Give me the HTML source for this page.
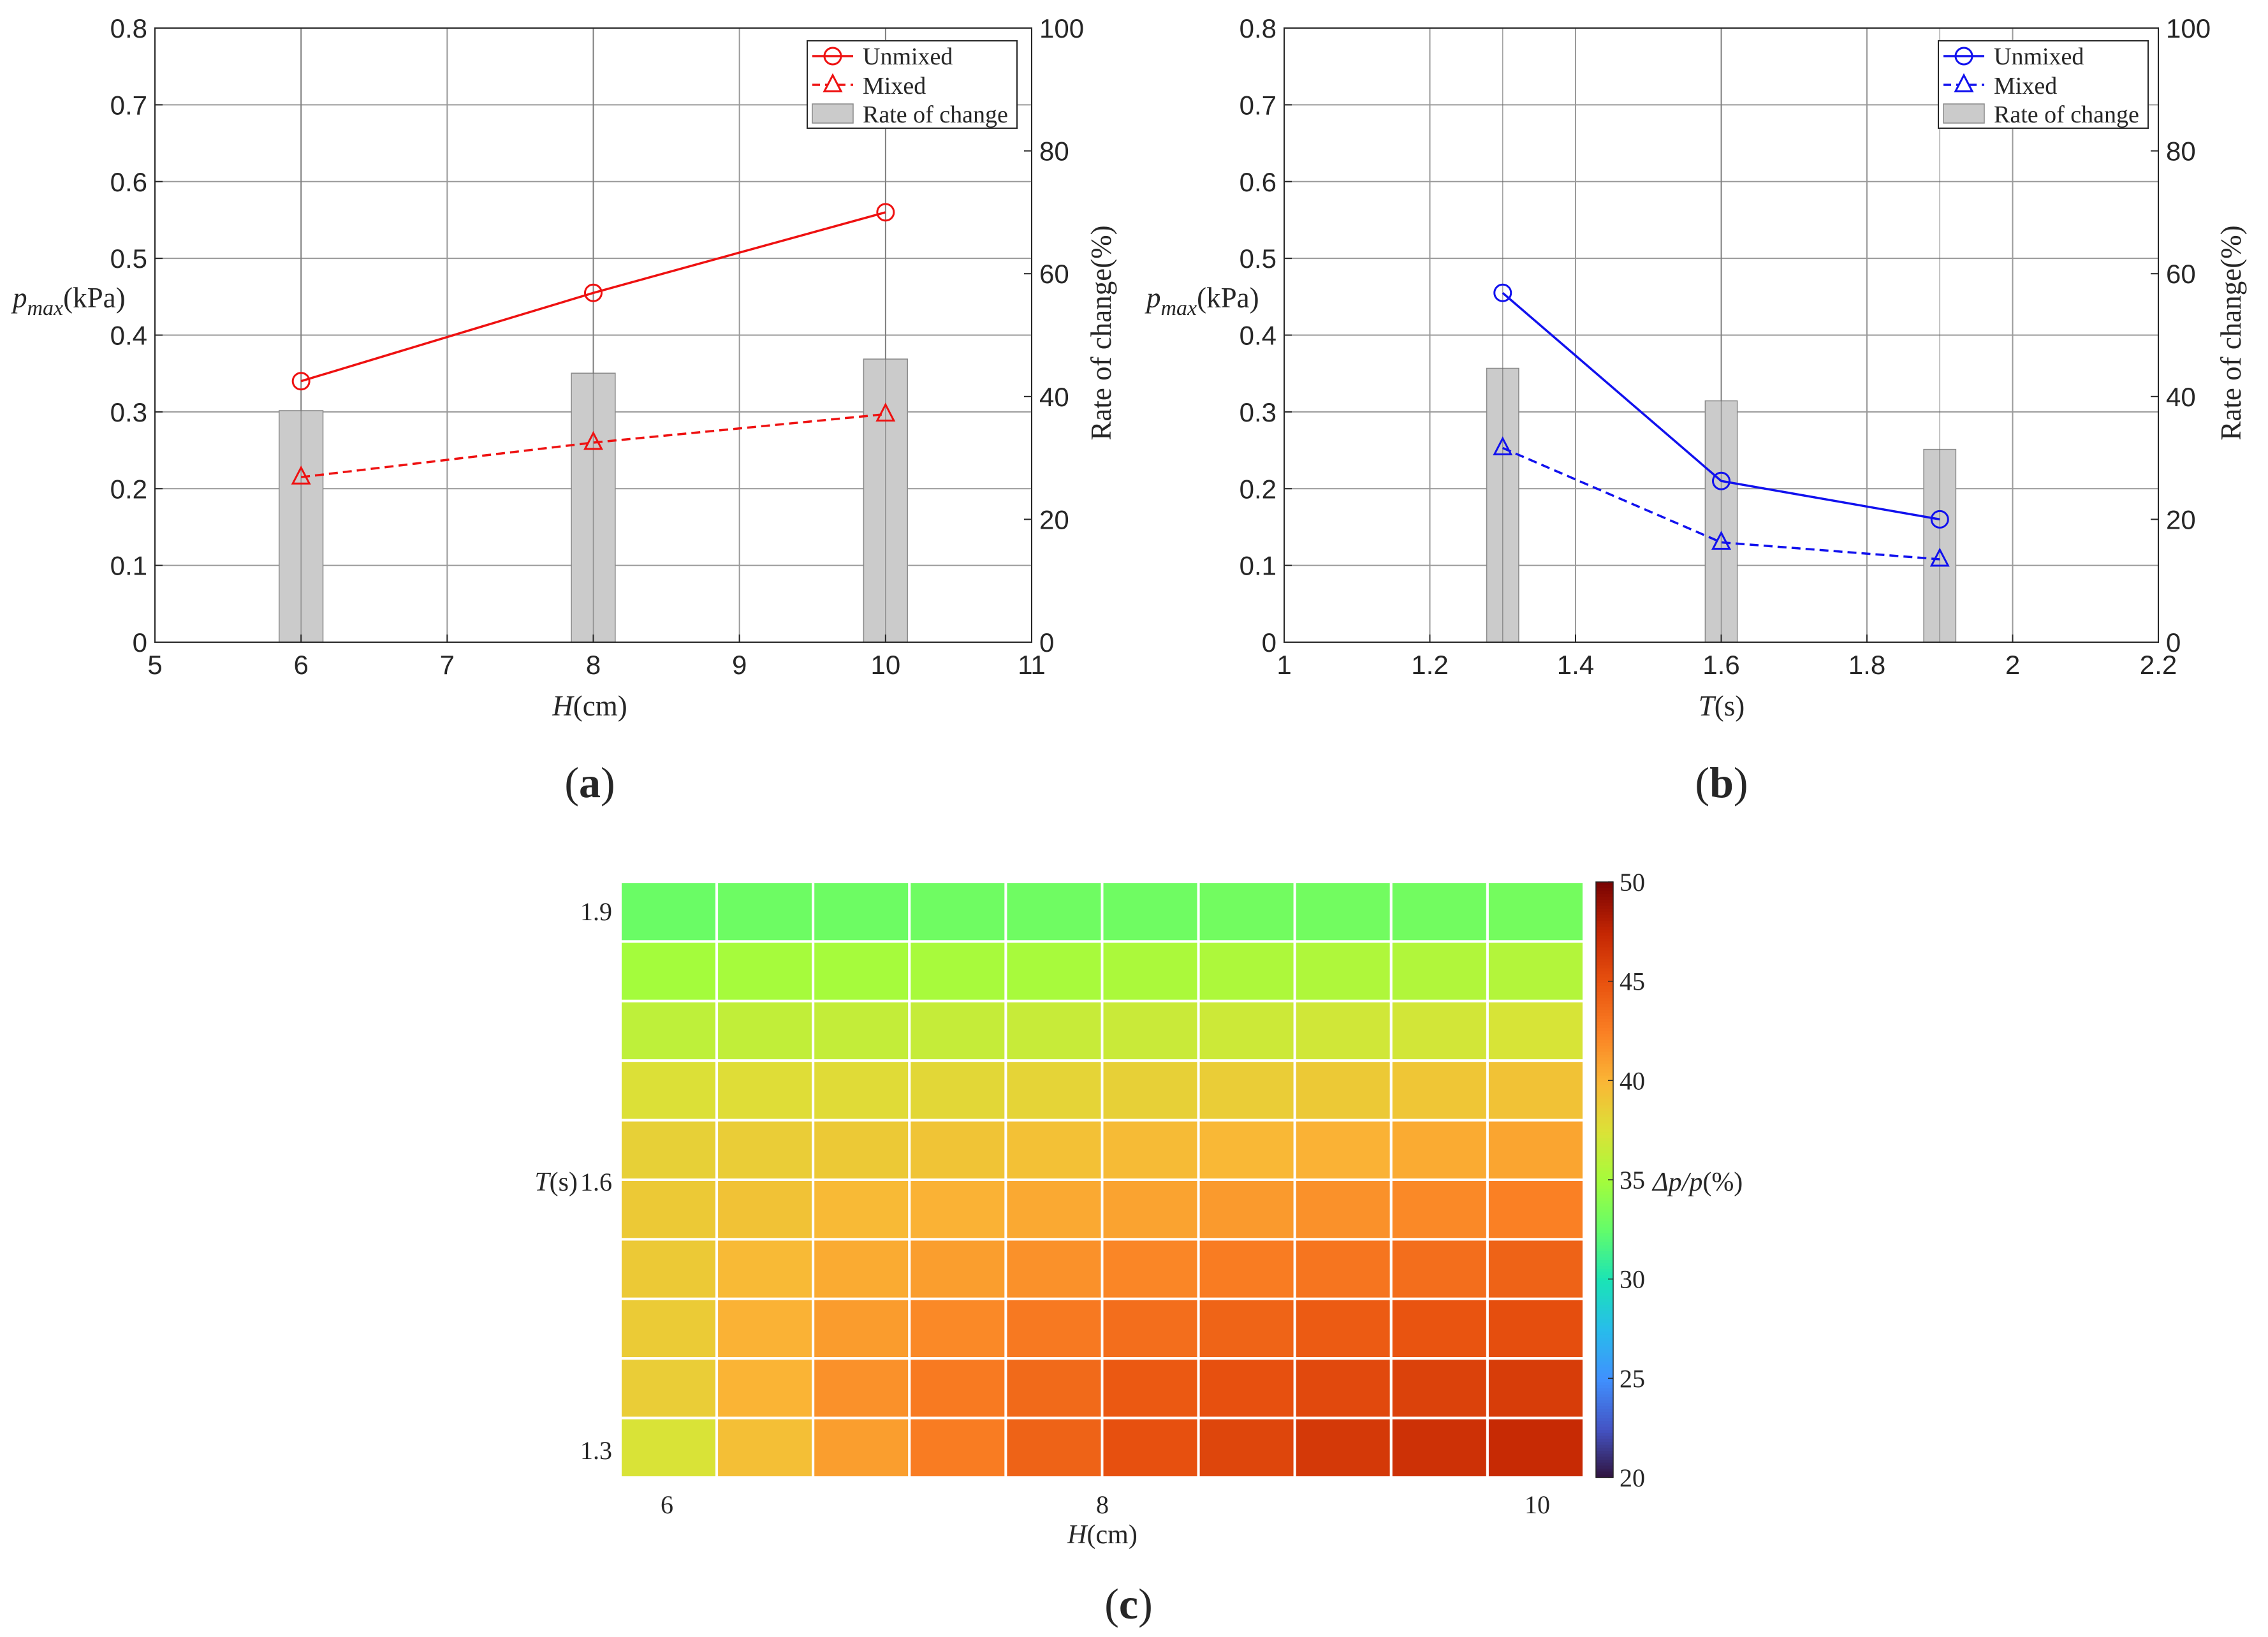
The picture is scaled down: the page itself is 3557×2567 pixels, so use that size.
<!DOCTYPE html>
<html><head><meta charset="utf-8"><style>
html,body{margin:0;padding:0;background:#fff}
svg{display:block}
.tk{font-family:"Liberation Sans Narrow","Liberation Sans",sans-serif;font-size:42px;fill:#262626}
.sf{font-family:"Liberation Serif",serif;fill:#262626}
</style></head><body>
<svg id="root" width="3557" height="2567" xmlns="http://www.w3.org/2000/svg"></svg>
<script>
// ---- data panel (a)
const hCats = [6, 8, 10];
const aUnmixed = [0.34, 0.455, 0.56];
const aMixed = [0.215, 0.26, 0.297];
const aRate = [37.7, 43.8, 46.1];
// ---- data panel (b)
const tCats = [1.3, 1.6, 1.9];
const bUnmixed = [0.455, 0.21, 0.16];
const bMixed = [0.253, 0.13, 0.108];
const bRate = [44.6, 39.3, 31.4];
// ---- tick labels
const leftTicks = [0, 0.1, 0.2, 0.3, 0.4, 0.5, 0.6, 0.7, 0.8];
const rightTicks = [0, 20, 40, 60, 80, 100];
const aXTicks = [5, 6, 7, 8, 9, 10, 11];
const bXTicks = [1, 1.2, 1.4, 1.6, 1.8, 2, 2.2];
// ---- heatmap (rows top = T 1.9 to bottom = T 1.3)
const heatRow1 = [32.8, 32.9, 32.9, 33.0, 33.0, 33.0, 33.1, 33.1, 33.1, 33.2];
const heatRow2 = [35.0, 35.1, 35.1, 35.2, 35.2, 35.3, 35.4, 35.5, 35.6, 35.7];
const heatRow3 = [36.2, 36.3, 36.4, 36.5, 36.6, 36.7, 36.8, 37.0, 37.1, 37.3];
const heatRow4 = [37.6, 37.8, 37.9, 38.1, 38.3, 38.5, 38.7, 38.9, 39.1, 39.3];
const heatRow5 = [38.5, 38.7, 38.9, 39.2, 39.4, 39.7, 39.9, 40.2, 40.5, 40.8];
const heatRow6 = [38.9, 39.3, 39.8, 40.2, 40.6, 40.9, 41.3, 41.7, 42.1, 42.5];
const heatRow7 = [38.9, 39.8, 40.5, 41.1, 41.7, 42.2, 42.7, 43.1, 43.5, 44.1];
const heatRow8 = [38.8, 40.2, 41.2, 42.1, 42.9, 43.5, 44.0, 44.5, 44.9, 45.2];
const heatRow9 = [38.7, 40.1, 41.7, 42.8, 43.7, 44.6, 45.1, 45.5, 45.9, 46.2];
const heatRow10 = [37.4, 39.5, 41.1, 42.7, 44.1, 45.1, 45.7, 46.4, 46.9, 47.3];
const heatRows = [heatRow1, heatRow2, heatRow3, heatRow4, heatRow5, heatRow6, heatRow7, heatRow8, heatRow9, heatRow10];
const cbTicks = [20, 25, 30, 35, 40, 45, 50];

const NS = "http://www.w3.org/2000/svg";
const root = document.getElementById('root');
function mk(tag, attrs, parent, txt) {
  const e = document.createElementNS(NS, tag);
  for (const k in attrs) e.setAttribute(k, attrs[k]);
  if (txt !== undefined) e.textContent = txt;
  (parent || root).appendChild(e);
  return e;
}

function panel(id, X0, X1, xmin, xmax, xTicks, cats, unm, mix, rate, barW, color, xLabelMain, xLabelUnit, labelX, labelYX, rightLabelX, legX) {
  const Y0 = 1007, Y1 = 44;
  const g = mk('g', {});
  
  
  const sx = v => X0 + (v - xmin) / (xmax - xmin) * (X1 - X0);
  const sy = v => Y0 - v / 0.8 * (Y0 - Y1);
  const sr = v => Y0 - v / 100 * (Y0 - Y1);
  xTicks.forEach(t => { const l = mk('line', {x1: sx(t), x2: sx(t), y1: Y1, y2: Y0, stroke: '#9a9a9a', 'stroke-width': 2}, g);
      });
  leftTicks.forEach(t => { const l = mk('line', {x1: X0, x2: X1, y1: sy(t), y2: sy(t), stroke: '#9a9a9a', 'stroke-width': 2}, g);
      });
  cats.forEach((c, i) => {
    const b = mk('rect', {x: sx(c - barW / 2), y: sr(rate[i]), width: sx(c + barW / 2) - sx(c - barW / 2), height: Y0 - sr(rate[i]), fill: '#cbcbcb', stroke: '#8a8a8a', 'stroke-width': 1.5}, g);
    
    
  });
  cats.forEach(c => { mk('line', {x1: sx(c), x2: sx(c), y1: Y1, y2: Y0, stroke: '#666', 'stroke-width': 1.5, 'stroke-opacity': 0.6}, g); });
  const box = mk('rect', {x: X0, y: Y1, width: X1 - X0, height: Y0 - Y1, fill: 'none', stroke: '#262626', 'stroke-width': 2}, g);
   
  leftTicks.forEach(t => {
    mk('line', {x1: X0, x2: X0 + 12, y1: sy(t), y2: sy(t), stroke: '#262626', 'stroke-width': 2}, g);
    const tx = mk('text', {x: X0 - 12, y: sy(t) + 15, 'text-anchor': 'end', class: 'tk'}, g, String(t));
     
  });
  rightTicks.forEach(t => {
    mk('line', {x1: X1, x2: X1 - 12, y1: sr(t), y2: sr(t), stroke: '#262626', 'stroke-width': 2}, g);
    const tx = mk('text', {x: X1 + 12, y: sr(t) + 15, 'text-anchor': 'start', class: 'tk'}, g, String(t));
     
  });
  xTicks.forEach(t => {
    mk('line', {x1: sx(t), x2: sx(t), y1: Y0, y2: Y0 - 12, stroke: '#262626', 'stroke-width': 2}, g);
    const tx = mk('text', {x: sx(t), y: Y0 + 50, 'text-anchor': 'middle', class: 'tk'}, g, String(t));
     
  });
  const pU = cats.map((c, i) => sx(c) + ',' + sy(unm[i])).join(' ');
  const lu = mk('polyline', {points: pU, fill: 'none', stroke: color, 'stroke-width': 3.5}, g);
   
  const pM = cats.map((c, i) => sx(c) + ',' + sy(mix[i])).join(' ');
  const lm = mk('polyline', {points: pM, fill: 'none', stroke: color, 'stroke-width': 3.5, 'stroke-dasharray': '14 8'}, g);
   
  cats.forEach((c, i) => {
    const m = mk('circle', {cx: sx(c), cy: sy(unm[i]), r: 13, fill: 'none', stroke: color, 'stroke-width': 3}, g);
     
    const x = sx(c), y = sy(mix[i]);
    const t = mk('polygon', {points: `${x},${y - 15} ${x - 13},${y + 10} ${x + 13},${y + 10}`, fill: 'none', stroke: color, 'stroke-width': 3}, g);
     
  });
  const lg = mk('g', {}, g);
   
  mk('rect', {x: legX, y: 64, width: 329, height: 137, fill: '#fff', stroke: '#262626', 'stroke-width': 2}, lg);
  mk('line', {x1: legX + 8, x2: legX + 72, y1: 88, y2: 88, stroke: color, 'stroke-width': 3.5}, lg);
  mk('circle', {cx: legX + 40, cy: 88, r: 13, fill: 'none', stroke: color, 'stroke-width': 3}, lg);
  mk('text', {x: legX + 87, y: 101, class: 'sf', 'font-size': 38}, lg, 'Unmixed');
  mk('line', {x1: legX + 8, x2: legX + 72, y1: 133, y2: 133, stroke: color, 'stroke-width': 3.5, 'stroke-dasharray': '12 8'}, lg);
  mk('polygon', {points: `${legX + 40},${118} ${legX + 27},${143} ${legX + 53},${143}`, fill: '#fff', stroke: color, 'stroke-width': 3}, lg);
  mk('text', {x: legX + 87, y: 147, class: 'sf', 'font-size': 38}, lg, 'Mixed');
  mk('rect', {x: legX + 8, y: 163, width: 64, height: 30, fill: '#cbcbcb', stroke: '#8a8a8a', 'stroke-width': 1.5}, lg);
  mk('text', {x: legX + 87, y: 192, class: 'sf', 'font-size': 38}, lg, 'Rate of change');
  const yl = mk('text', {x: labelYX, y: 482, class: 'sf', 'font-size': 45}, g);
   
  mk('tspan', {'font-style': 'italic'}, yl, 'p');
  mk('tspan', {'font-style': 'italic', 'font-size': 34, dy: 12}, yl, 'max');
  mk('tspan', {dy: -12}, yl, '(kPa)');
  const rl = mk('text', {x: rightLabelX, y: 522, class: 'sf', 'font-size': 45, 'text-anchor': 'middle', transform: `rotate(-90 ${rightLabelX} 522)`}, g, 'Rate of change(%)');
   
  const xl = mk('text', {x: labelX, y: 1122, class: 'sf', 'font-size': 45, 'text-anchor': 'middle'}, g);
   
  mk('tspan', {'font-style': 'italic'}, xl, xLabelMain);
  mk('tspan', {}, xl, xLabelUnit);
  const pl = mk('text', {x: labelX, y: 1250, class: 'sf', 'font-size': 68, 'text-anchor': 'middle'}, g);
   
  mk('tspan', {}, pl, '(');
  mk('tspan', {'font-weight': 'bold'}, pl, id);
  mk('tspan', {}, pl, ')');
}
panel('a', 243, 1618, 5, 11, aXTicks, hCats, aUnmixed, aMixed, aRate, 0.3, '#ee1111', 'H', '(cm)', 925, 20, 1742, 1266);
panel('b', 2014, 3385, 1, 2.2, bXTicks, tCats, bUnmixed, bMixed, bRate, 0.044, '#1111ee', 'T', '(s)', 2700, 1798, 3514, 3040);

const stops = [[20,[48,18,59]],[22.5,[68,84,196]],[25,[64,144,254]],[27.5,[40,188,235]],[30,[26,228,182]],[32.5,[98,252,107]],[35,[164,252,60]],[37.5,[219,226,55]],[40,[250,182,54]],[42.5,[250,128,36]],[45,[232,82,15]],[47.5,[196,38,3]],[50,[122,4,3]]];
function cmap(v) {
  v = Math.max(20, Math.min(50, v));
  for (let i = 0; i < stops.length - 1; i++) {
    const [a, ca] = stops[i], [b, cb] = stops[i + 1];
    if (v <= b) { const t = (v - a) / (b - a); return 'rgb(' + ca.map((c, k) => Math.round(c + (cb[k] - c) * t)).join(',') + ')'; }
  }
  return 'rgb(122,4,3)';
}
const HX0 = 973, HX1 = 2484, HY0 = 1383, HY1 = 2317;
const hg = mk('g', {});
 
const nR = heatRows.length, nC = heatRows[0].length;
const cw = (HX1 - HX0) / nC, ch = (HY1 - HY0) / nR;
heatRows.forEach((row, r) => row.forEach((v, c) => {
  const cell = mk('rect', {x: HX0 + c * cw, y: HY0 + r * ch, width: cw, height: ch, fill: cmap(v), stroke: '#fff', 'stroke-width': 4}, hg);
  
  
}));
[['1.9', 1443], ['1.6', 1867], ['1.3', 2288]].forEach(([t, y]) => {
  const e = mk('text', {x: 960, y: y, 'text-anchor': 'end', class: 'sf', 'font-size': 40}, hg, t);
   
});
const ty = mk('text', {x: 906, y: 1867, 'text-anchor': 'end', class: 'sf', 'font-size': 42}, hg);
 
mk('tspan', {'font-style': 'italic'}, ty, 'T'); mk('tspan', {}, ty, '(s)');
[['6', 1046], ['8', 1729], ['10', 2411]].forEach(([t, x]) => {
  const e = mk('text', {x: x, y: 2373, 'text-anchor': 'middle', class: 'sf', 'font-size': 40}, hg, t);
   
});
const tx = mk('text', {x: 1729, y: 2420, 'text-anchor': 'middle', class: 'sf', 'font-size': 42}, hg);
 
mk('tspan', {'font-style': 'italic'}, tx, 'H'); mk('tspan', {}, tx, '(cm)');
const cb = mk('g', {});
 
const CBX = 2503, CBW = 27;
for (let i = 0; i < 200; i++) {
  const v = 50 - i * 30 / 200;
  mk('rect', {x: CBX, y: HY0 + i * (HY1 - HY0) / 200, width: CBW, height: (HY1 - HY0) / 200 + 0.8, fill: cmap(v)}, cb);
}
mk('rect', {x: CBX, y: HY0, width: CBW, height: HY1 - HY0, fill: 'none', stroke: '#262626', 'stroke-width': 1.5}, cb);
cbTicks.forEach(t => {
  const y = HY1 - (t - 20) / 30 * (HY1 - HY0);
  mk('line', {x1: CBX + CBW - 8, x2: CBX + CBW, y1: y, y2: y, stroke: '#262626', 'stroke-width': 1.5}, cb);
  const e = mk('text', {x: CBX + CBW + 10, y: y + 14, class: 'sf', 'font-size': 40}, cb, String(t));
   
});
const ct = mk('text', {x: 2592, y: 1867, class: 'sf', 'font-size': 42}, cb);
 
mk('tspan', {'font-style': 'italic'}, ct, 'Δp/p'); mk('tspan', {}, ct, '(%)');
const pc = mk('text', {x: 1770, y: 2538, class: 'sf', 'font-size': 68, 'text-anchor': 'middle'});
 
mk('tspan', {}, pc, '('); mk('tspan', {'font-weight': 'bold'}, pc, 'c'); mk('tspan', {}, pc, ')');
</script>
</body></html>
